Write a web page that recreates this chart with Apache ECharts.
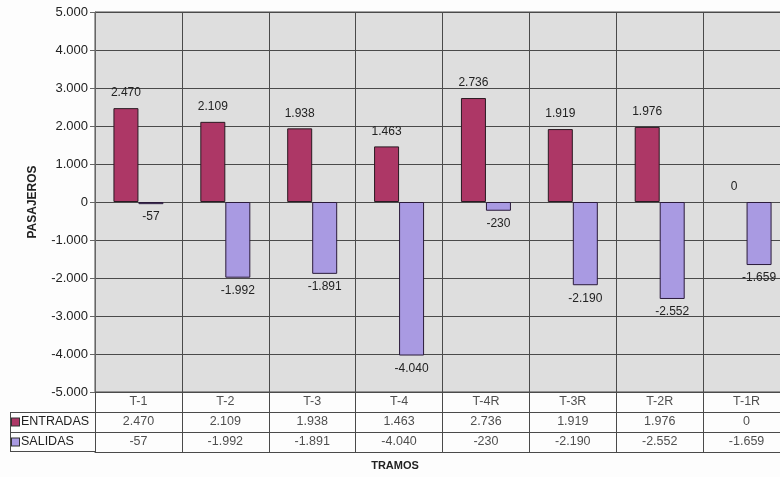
<!DOCTYPE html>
<html>
<head>
<meta charset="utf-8">
<script src="https://cdn.jsdelivr.net/npm/echarts@6/dist/echarts.min.js"></script>
<style>
  html, body { margin: 0; padding: 0; background: #fdfdfd; overflow: hidden; }
  #chart { width: 790px; height: 477px; }
</style>
</head>
<body>
<div id="chart"></div>
<script>
// Tramos del recorrido (ida y regreso)
const tramos = ['T-1', 'T-2', 'T-3', 'T-4', 'T-4R', 'T-3R', 'T-2R', 'T-1R'];
// Pasajeros que suben en cada tramo
const entradas = [2470, 2109, 1938, 1463, 2736, 1919, 1976, 0];
// Pasajeros que bajan en cada tramo
const salidas = [-57, -1992, -1891, -4040, -230, -2190, -2552, -1659];
// Marcas del eje de pasajeros
const yTicks = [-5000, -4000, -3000, -2000, -1000, 0, 1000, 2000, 3000, 4000, 5000];

const COLOR_ENT = '#ad3766';
const COLOR_SAL = '#a99ae2';
const FONT = 'Liberation Sans, Arial, sans-serif';

// Número con punto como separador de miles
function fmt(v) {
  const s = String(Math.abs(Math.round(v))).replace(/\B(?=(\d{3})+(?!\d))/g, '.');
  return (v < 0 ? '-' : '') + s;
}

// Barras sin contorno cuando el valor es cero
function barData(values) {
  return values.map(v => v === 0 ? { value: v, itemStyle: { borderWidth: 0 } } : v);
}

const tableCells = [];
tramos.forEach((t, i) => {
  tableCells.push([i, 'HEAD', t]);
  tableCells.push([i, 'ENTRADAS', fmt(entradas[i])]);
  tableCells.push([i, 'SALIDAS', fmt(salidas[i])]);
});

const chart = echarts.init(document.getElementById('chart'));
chart.setOption({
  animation: false,
  backgroundColor: '#fdfdfd',
  textStyle: { fontFamily: FONT },
  grid: [
    { left: 95, right: 0, top: 12, height: 380, show: true, backgroundColor: '#dedede', borderColor: '#4a4a4a', borderWidth: 1 },
    { left: 95, right: 0, top: 392, height: 60, show: true, backgroundColor: '#fdfdfd', borderWidth: 0 }
  ],
  xAxis: [
    {
      gridIndex: 0, type: 'category', data: tramos,
      axisLine: { show: false }, axisTick: { show: false }, axisLabel: { show: false },
      splitLine: { show: true, interval: 0, lineStyle: { color: '#4a4a4a', width: 1 } }
    },
    {
      gridIndex: 1, type: 'category', data: tramos,
      axisLine: { show: true, lineStyle: { color: '#4a4a4a' } }, axisTick: { show: false }, axisLabel: { show: false },
      splitLine: { show: true, interval: 0, lineStyle: { color: '#4a4a4a', width: 1 } }
    }
  ],
  yAxis: [
    {
      gridIndex: 0, type: 'value', min: -5000, max: 5000, interval: 1000,
      axisLine: { show: true, lineStyle: { color: '#666' } },
      axisTick: { show: true, length: 5, lineStyle: { color: '#666' } },
      axisLabel: { color: '#222', fontSize: 13, fontFamily: FONT, margin: 7, formatter: v => fmt(v) },
      splitLine: { show: true, lineStyle: { color: '#4a4a4a', width: 1 } },
      name: 'PASAJEROS', nameLocation: 'middle', nameGap: 56, nameRotate: 90,
      nameTextStyle: { fontFamily: FONT, fontSize: 12, fontWeight: 'bold', color: '#222' }
    },
    {
      gridIndex: 1, type: 'category', inverse: true, data: ['HEAD', 'ENTRADAS', 'SALIDAS'],
      axisLine: { show: true, lineStyle: { color: '#4a4a4a' } }, axisTick: { show: false },
      splitLine: { show: true, interval: 0, lineStyle: { color: '#4a4a4a', width: 1 } },
      axisLabel: {
        margin: 83, align: 'left', fontSize: 12.5, fontFamily: FONT, color: '#222',
        formatter: v => v === 'ENTRADAS' ? '{e|}{g|}' + v : (v === 'SALIDAS' ? '{s|}{g|}' + v : ''),
        rich: {
          e: { width: 7, height: 7, backgroundColor: COLOR_ENT, borderColor: '#333', borderWidth: 1 },
          s: { width: 7, height: 7, backgroundColor: COLOR_SAL, borderColor: '#333', borderWidth: 1 },
          g: { width: 2 }
        }
      }
    }
  ],
  graphic: [
    // recuadro de la columna de leyenda de la tabla
    { type: 'line', shape: { x1: 10, y1: 412.5, x2: 95, y2: 412.5 }, style: { stroke: '#4a4a4a', lineWidth: 1 } },
    { type: 'line', shape: { x1: 10, y1: 432.5, x2: 95, y2: 432.5 }, style: { stroke: '#4a4a4a', lineWidth: 1 } },
    { type: 'line', shape: { x1: 10, y1: 451.5, x2: 95, y2: 451.5 }, style: { stroke: '#4a4a4a', lineWidth: 1 } },
    { type: 'line', shape: { x1: 10.5, y1: 412, x2: 10.5, y2: 452 }, style: { stroke: '#4a4a4a', lineWidth: 1 } },
    // título del eje de categorías
    { type: 'text', x: 395, y: 466, style: { text: 'TRAMOS', fill: '#222', font: 'bold 11px ' + FONT, textAlign: 'center', textVerticalAlign: 'middle' } }
  ],
  series: [
    {
      name: 'ENTRADAS', type: 'bar', xAxisIndex: 0, yAxisIndex: 0, data: barData(entradas),
      barWidth: 25, barGap: '0%',
      itemStyle: { color: COLOR_ENT, borderColor: '#2a1a22', borderWidth: 1 },
      label: { show: true, position: 'top', distance: 9, color: '#222', fontSize: 12, fontFamily: FONT, formatter: p => fmt(p.value) }
    },
    {
      name: 'SALIDAS', type: 'bar', xAxisIndex: 0, yAxisIndex: 0, data: barData(salidas),
      barWidth: 25, barGap: '0%',
      itemStyle: { color: COLOR_SAL, borderColor: '#2a1a3a', borderWidth: 1 },
      label: { show: true, position: 'bottom', distance: 7, color: '#222', fontSize: 12, fontFamily: FONT, formatter: p => fmt(p.value) }
    },
    {
      name: 'tabla', type: 'scatter', xAxisIndex: 1, yAxisIndex: 1, data: tableCells,
      symbolSize: 0, silent: true,
      label: { show: true, position: 'inside', color: '#222', fontSize: 12.5, fontFamily: FONT, formatter: p => p.value[2] }
    }
  ]
});
</script>
</body>
</html>
